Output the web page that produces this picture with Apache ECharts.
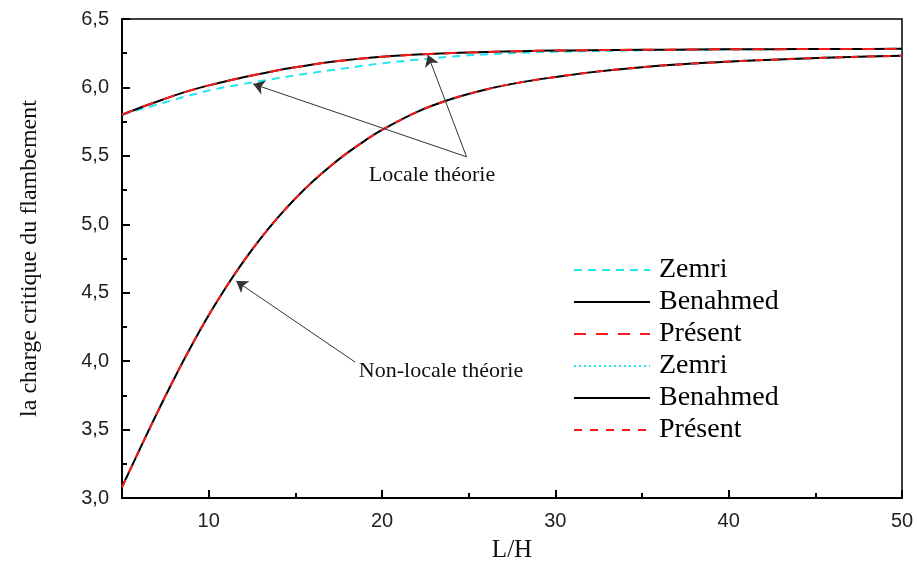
<!DOCTYPE html>
<html>
<head>
<meta charset="utf-8">
<script src="https://cdn.jsdelivr.net/npm/echarts@6/dist/echarts.min.js"></script>
<style>html,body{margin:0;padding:0;background:#fff;}#chart{width:917px;height:570px;}</style>
</head>
<body>
<div id="chart"></div>
<script>
// L/H values
var xs = [5,6,7,8,9,10,11,12,13,14,15,16,17,18,19,20,22,24,26,28,30,32,35,38,41,44,47,50];
// Local theory
var localZemri    = [5.80,5.838,5.873,5.91,5.945,5.977,6.003,6.025,6.047,6.068,6.088,6.107,6.125,6.142,6.16,6.176,6.203,6.225,6.242,6.253,6.26,6.265,6.271,6.275,6.278,6.28,6.281,6.282];
var localBenahmed = [5.80,5.85,5.895,5.94,5.98,6.015,6.045,6.075,6.10,6.125,6.147,6.167,6.185,6.20,6.213,6.224,6.24,6.251,6.259,6.265,6.269,6.272,6.275,6.277,6.279,6.28,6.281,6.282];
var localPresent  = localBenahmed.slice();
// Non-local theory
var nonlocalBenahmed = [3.08,3.35,3.615,3.87,4.11,4.335,4.54,4.727,4.897,5.05,5.188,5.312,5.423,5.522,5.61,5.689,5.82,5.915,5.985,6.037,6.076,6.11,6.148,6.175,6.195,6.21,6.222,6.232];
var nonlocalZemri    = nonlocalBenahmed.slice();
var nonlocalPresent  = nonlocalBenahmed.slice();
// Tick values
var xMajorTicks = [10,20,30,40,50];
var xMinorTicks = [15,25,35,45];
// Legend names (trailing space keeps the second group distinct)
var legendNames = ['Zemri','Benahmed','Présent','Zemri ','Benahmed ','Présent '];
// Annotation arrows [from, to] in data coordinates
var localArrows = [[[24.88,5.493],[12.57,6.025]],[[24.88,5.493],[22.65,6.237]]];
var nonlocalArrows = [[[18.45,3.993],[11.59,4.585]]];

function pairs(a){ return xs.map(function(x,i){ return [x,a[i]]; }); }
function arrowData(list){ return list.map(function(p){ return [{coord:p[0]},{coord:p[1]}]; }); }

var chart = echarts.init(document.getElementById('chart'));
var serif = '"Liberation Serif", "Times New Roman", serif';
var sans = '"Liberation Sans", Arial, sans-serif';

function lineSeries(name, data, color, type, width, z, extra){
  var s = {
    name: name, type: 'line', data: pairs(data), smooth: 0.4, symbol: 'none',
    xAxisIndex: 0, yAxisIndex: 0, z: z,
    lineStyle: {color: color, width: width, type: type},
    itemStyle: {color: color}
  };
  if (extra) for (var k in extra) s[k] = extra[k];
  return s;
}
var arrowMark = function(list){
  return {
    silent: true, symbol: ['none','arrow'], symbolSize: 11,
    label: {show: false},
    lineStyle: {color: '#333', width: 1, type: 'solid'},
    itemStyle: {color: '#000'},
    emphasis: {disabled: true},
    data: arrowData(list)
  };
};

chart.setOption({
  animation: false,
  backgroundColor: '#fff',
  grid: {left: 122, right: 15, top: 19, bottom: 72, show: true, borderColor: '#000', borderWidth: 1.5, backgroundColor: 'transparent'},
  legend: {
    orient: 'vertical', left: 568, top: 251,
    itemWidth: 76, itemHeight: 14, itemGap: 4,
    data: legendNames,
    itemStyle: {opacity: 0},
    textStyle: {fontFamily: serif, fontSize: 28, color: '#000', lineHeight: 26, padding: [0,0,0,4]},
    selectedMode: false
  },
  xAxis: [{
    type: 'value', min: 5, max: 50,
    name: 'L/H', nameLocation: 'middle', nameGap: 40,
    nameTextStyle: {fontFamily: serif, fontSize: 25, color: '#111'},
    axisLine: {show: true, onZero: false, lineStyle: {color: '#000', width: 2}},
    axisTick: {show: true, inside: true, length: 8, customValues: xMajorTicks, lineStyle: {color: '#000', width: 2}},
    axisLabel: {customValues: xMajorTicks, fontFamily: sans, fontSize: 20, color: '#222', margin: 13},
    splitLine: {show: false}
  },{
    type: 'value', min: 5, max: 50, position: 'bottom',
    axisLine: {show: false},
    axisTick: {show: true, inside: true, length: 5, customValues: xMinorTicks, lineStyle: {color: '#000', width: 2}},
    axisLabel: {show: false},
    splitLine: {show: false}
  }],
  yAxis: {
    type: 'value', min: 3, max: 6.5, interval: 0.5,
    name: 'la charge critique du flambement', nameLocation: 'middle', nameGap: 80,
    nameTextStyle: {fontFamily: serif, fontSize: 24, color: '#111'},
    axisLine: {show: true, onZero: false, lineStyle: {color: '#000', width: 2}},
    axisTick: {show: true, inside: true, length: 8, lineStyle: {color: '#000', width: 2}},
    minorTick: {show: true, splitNumber: 2, length: 5, lineStyle: {color: '#000', width: 2}},
    axisLabel: {fontFamily: sans, fontSize: 20, color: '#222', margin: 13,
      formatter: function(v){ return v.toFixed(1).replace('.', ','); }},
    splitLine: {show: false}
  },
  series: [
    lineSeries(legendNames[0], localZemri, '#22e5f0', [8,6], 2, 2),
    lineSeries(legendNames[1], localBenahmed, '#000', 'solid', 2, 3),
    lineSeries(legendNames[2], localPresent, '#ff1a1a', [12,10], 2, 4, {markLine: arrowMark(localArrows)}),
    lineSeries(legendNames[3], nonlocalZemri, '#22e5f0', [2,3], 2, 2),
    lineSeries(legendNames[4], nonlocalBenahmed, '#000', 'solid', 2, 3),
    lineSeries(legendNames[5], nonlocalPresent, '#ff1a1a', [8,8], 2, 4, {markLine: arrowMark(nonlocalArrows)})
  ],
  graphic: [
    {type: 'text', x: 432, y: 175, silent: true, style: {text: 'Locale théorie', font: '22px ' + serif, fill: '#111', align: 'center', verticalAlign: 'middle'}},
    {type: 'text', x: 441, y: 371, silent: true, style: {text: 'Non-locale théorie', font: '22px ' + serif, fill: '#111', align: 'center', verticalAlign: 'middle'}}
  ]
});
</script>
</body>
</html>
